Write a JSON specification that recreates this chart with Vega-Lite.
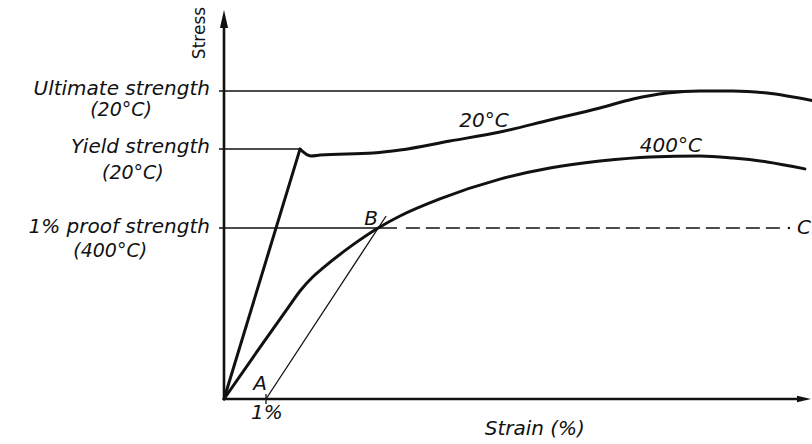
{
  "$schema": "https://vega.github.io/schema/vega-lite/v6.json",
  "width": 588,
  "height": 390,
  "autosize": {"type": "none"},
  "padding": {"left": 224, "top": 9, "right": 0, "bottom": 45},
  "background": "white",
  "config": {
    "view": {"stroke": null},
    "text": {"font": "DejaVu Sans", "fontStyle": "italic", "color": "#111", "fontSize": 20, "baseline": "middle"}
  },
  "datasets": {
    "curves": [
      {"series": "20°C elastic", "s": 0, "stress": 0},
      {"series": "20°C elastic", "s": 1.81, "stress": 83.3},
      {"series": "20°C", "s": 1.81, "stress": 83.3},
      {"series": "20°C", "s": 2.07, "stress": 81.0},
      {"series": "20°C", "s": 2.29, "stress": 81.3},
      {"series": "20°C", "s": 3.55, "stress": 82.0},
      {"series": "20°C", "s": 4.19, "stress": 83.0},
      {"series": "20°C", "s": 5.38, "stress": 86.0},
      {"series": "20°C", "s": 6.57, "stress": 89.0},
      {"series": "20°C", "s": 7.76, "stress": 93.0},
      {"series": "20°C", "s": 8.95, "stress": 97.0},
      {"series": "20°C", "s": 9.74, "stress": 100.0},
      {"series": "20°C", "s": 10.55, "stress": 102.0},
      {"series": "20°C", "s": 11.33, "stress": 102.7},
      {"series": "20°C", "s": 12.12, "stress": 102.7},
      {"series": "20°C", "s": 12.93, "stress": 102.0},
      {"series": "20°C", "s": 14.0, "stress": 99.5},
      {"series": "400°C", "s": 0, "stress": 0},
      {"series": "400°C", "s": 0.81, "stress": 16.3},
      {"series": "400°C", "s": 1.62, "stress": 32.3},
      {"series": "400°C", "s": 1.81, "stress": 36.0},
      {"series": "400°C", "s": 2.1, "stress": 40.5},
      {"series": "400°C", "s": 2.36, "stress": 43.7},
      {"series": "400°C", "s": 3.0, "stress": 50.7},
      {"series": "400°C", "s": 3.67, "stress": 57.0},
      {"series": "400°C", "s": 4.19, "stress": 61.0},
      {"series": "400°C", "s": 5.14, "stress": 66.7},
      {"series": "400°C", "s": 6.57, "stress": 73.3},
      {"series": "400°C", "s": 7.76, "stress": 77.0},
      {"series": "400°C", "s": 8.95, "stress": 79.3},
      {"series": "400°C", "s": 10.14, "stress": 80.7},
      {"series": "400°C", "s": 11.33, "stress": 81.0},
      {"series": "400°C", "s": 12.12, "stress": 80.3},
      {"series": "400°C", "s": 12.93, "stress": 79.0},
      {"series": "400°C", "s": 13.83, "stress": 76.7}
    ],
    "rules": [
      {"kind": "ref", "s": -0.12, "s2": 11.7, "stress": 102.67, "stress2": 102.67},
      {"kind": "ref", "s": -0.12, "s2": 1.81, "stress": 83.3, "stress2": 83.3},
      {"kind": "ref", "s": -0.12, "s2": 4.12, "stress": 57, "stress2": 57},
      {"kind": "dash", "s": 4.33, "s2": 13.31, "stress": 57, "stress2": 57},
      {"kind": "offset", "s": 1, "s2": 3.86, "stress": 0, "stress2": 61},
      {"kind": "tick", "s": 1, "s2": 1, "stress": -1.7, "stress2": 1.7},
      {"kind": "axis", "s": 0, "s2": 0, "stress": 0, "stress2": 124},
      {"kind": "axis", "s": 0, "s2": 13.7, "stress": 0, "stress2": 0}
    ],
    "points": [
      {"kind": "up", "s": 0, "stress": 126.7},
      {"kind": "right", "s": 13.81, "stress": 0},
      {"kind": "dot", "s": 13.45, "stress": 57}
    ],
    "labels": [
      {"group": "right", "label": "Ultimate strength", "s": -0.333, "stress": 103.33},
      {"group": "right", "label": "Yield strength", "s": -0.333, "stress": 84.0},
      {"group": "right", "label": "1% proof strength", "s": -0.333, "stress": 57.33},
      {"group": "sub", "label": "(20°C)", "s": -2.45, "stress": 96.33},
      {"group": "sub", "label": "(20°C)", "s": -2.17, "stress": 75.33},
      {"group": "sub", "label": "(400°C)", "s": -2.71, "stress": 49.33},
      {"group": "center", "label": "20°C", "s": 6.19, "stress": 92.7},
      {"group": "center", "label": "400°C", "s": 10.64, "stress": 84.3},
      {"group": "center", "label": "B", "s": 3.5, "stress": 60},
      {"group": "center", "label": "A", "s": 0.857, "stress": 5},
      {"group": "center", "label": "1%", "s": 1.02, "stress": -4.7},
      {"group": "center", "label": "Strain (%)", "s": 7.4, "stress": -10},
      {"group": "left", "label": "C", "s": 13.64, "stress": 57},
      {"group": "rot", "label": "Stress", "s": -0.58, "stress": 122}
    ]
  },
  "encoding": {
    "x": {"field": "s", "type": "quantitative", "scale": {"domain": [0, 14], "nice": false, "zero": false}, "axis": null},
    "y": {"field": "stress", "type": "quantitative", "scale": {"domain": [0, 130], "nice": false, "zero": false}, "axis": null}
  },
  "layer": [
    {
      "data": {"name": "rules"},
      "transform": [{"filter": "datum.kind === 'ref'"}],
      "mark": {"type": "rule", "strokeWidth": 1.5, "color": "#111"},
      "encoding": {"x2": {"field": "s2"}, "y2": {"field": "stress2"}}
    },
    {
      "data": {"name": "rules"},
      "transform": [{"filter": "datum.kind === 'dash'"}],
      "mark": {"type": "rule", "strokeWidth": 1.5, "color": "#111", "strokeDash": [14, 6]},
      "encoding": {"x2": {"field": "s2"}, "y2": {"field": "stress2"}}
    },
    {
      "data": {"name": "rules"},
      "transform": [{"filter": "datum.kind === 'offset' || datum.kind === 'tick'"}],
      "mark": {"type": "rule", "strokeWidth": 1.3, "color": "#111"},
      "encoding": {"x2": {"field": "s2"}, "y2": {"field": "stress2"}}
    },
    {
      "data": {"name": "rules"},
      "transform": [{"filter": "datum.kind === 'axis'"}],
      "mark": {"type": "rule", "strokeWidth": 2.6, "color": "#111"},
      "encoding": {"x2": {"field": "s2"}, "y2": {"field": "stress2"}}
    },
    {
      "data": {"name": "curves"},
      "mark": {"type": "line", "strokeWidth": 3, "color": "#111", "interpolate": "monotone", "strokeJoin": "round", "strokeCap": "round"},
      "encoding": {"detail": {"field": "series", "type": "nominal"}}
    },
    {
      "data": {"name": "points"},
      "transform": [{"filter": "datum.kind === 'up'"}],
      "mark": {"type": "point", "shape": "M0,-1L0.45,1L-0.45,1Z", "filled": true, "color": "#111", "opacity": 1, "size": 324}
    },
    {
      "data": {"name": "points"},
      "transform": [{"filter": "datum.kind === 'right'"}],
      "mark": {"type": "point", "shape": "M1,0L-1,0.45L-1,-0.45Z", "filled": true, "color": "#111", "opacity": 1, "size": 196}
    },
    {
      "data": {"name": "points"},
      "transform": [{"filter": "datum.kind === 'dot'"}],
      "mark": {"type": "point", "shape": "circle", "filled": true, "color": "#111", "opacity": 1, "size": 6}
    },
    {
      "data": {"name": "labels"},
      "transform": [{"filter": "datum.group === 'right'"}],
      "mark": {"type": "text", "align": "right"},
      "encoding": {"text": {"field": "label"}}
    },
    {
      "data": {"name": "labels"},
      "transform": [{"filter": "datum.group === 'sub'"}],
      "mark": {"type": "text", "align": "center", "fontSize": 19},
      "encoding": {"text": {"field": "label"}}
    },
    {
      "data": {"name": "labels"},
      "transform": [{"filter": "datum.group === 'center'"}],
      "mark": {"type": "text", "align": "center"},
      "encoding": {"text": {"field": "label"}}
    },
    {
      "data": {"name": "labels"},
      "transform": [{"filter": "datum.group === 'left'"}],
      "mark": {"type": "text", "align": "left"},
      "encoding": {"text": {"field": "label"}}
    },
    {
      "data": {"name": "labels"},
      "transform": [{"filter": "datum.group === 'rot'"}],
      "mark": {"type": "text", "align": "center", "angle": 270, "fontStyle": "normal", "fontSize": 17},
      "encoding": {"text": {"field": "label"}}
    }
  ]
}
